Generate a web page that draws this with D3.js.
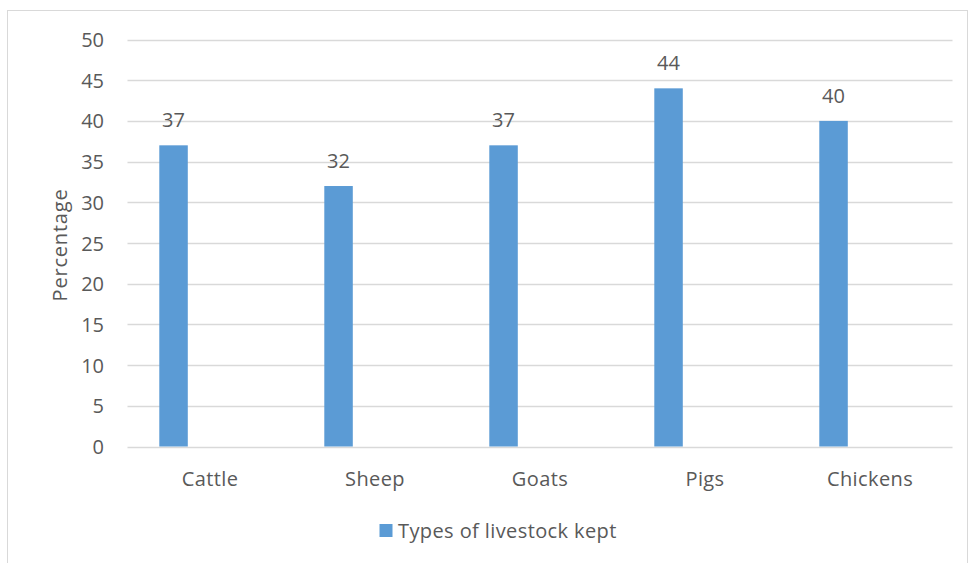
<!DOCTYPE html>
<html><head><meta charset="utf-8">
<script src="https://cdn.jsdelivr.net/npm/d3@7"></script>
<style>
body{margin:0;background:#fff;}
text{font-family:"Open Sans","Noto Sans",sans-serif;fill:#595959;}
</style></head>
<body><svg id="c" width="970" height="563"></svg>
<script>
const categories = ["Cattle","Sheep","Goats","Pigs","Chickens"];
const values = [37,32,37,44,40];
const yTicks = [0,5,10,15,20,25,30,35,40,45,50];
const seriesName = "Types of livestock kept";
const yTitle = "Percentage";

(function(){
const svg = d3.select("#c");
const pL = 127.5, pR = 952.5, pT = 39.5, pB = 446.5;
const color = "#5B9BD5";
const FS = "20px";
const FF = "'Open Sans','Noto Sans',sans-serif";

svg.append("rect").attr("x",7.5).attr("y",10.5).attr("width",960).attr("height",560)
  .attr("fill","#fff").attr("stroke","#D9D9D9").attr("stroke-width",1);

const x = d3.scaleBand().domain(categories).range([pL,pR]).paddingInner(0).paddingOuter(0);
const y = d3.scaleLinear().domain([0,50]).range([pB,pT]);

// gridlines
svg.append("g").selectAll("line").data(yTicks).join("line")
  .attr("x1",pL).attr("x2",pR)
  .attr("y1",d=>Math.round(y(d))+0.5).attr("y2",d=>Math.round(y(d))+0.5)
  .attr("stroke","#D9D9D9").attr("stroke-width",1.3);

// y axis labels
const yAxis = d3.axisLeft(y).tickValues(yTicks).tickSize(0).tickPadding(0);
const gy = svg.append("g").attr("transform",`translate(104,0)`).call(yAxis);
gy.select(".domain").remove();
gy.selectAll("text").attr("font-size",FS).attr("fill","#595959")
  .style("font-family",FF).attr("dy","0.35em");

// bars
const bw = x.bandwidth();
const off = bw*0.1927, wid = bw*0.1727;
svg.append("g").selectAll("rect").data(values).join("rect")
  .attr("x",(d,i)=>x(categories[i])+off)
  .attr("width",wid)
  .attr("y",d=>y(d))
  .attr("height",d=>y(0)-y(d))
  .attr("fill",color);

// value labels
svg.append("g").selectAll("text").data(values).join("text")
  .attr("x",(d,i)=>x(categories[i])+off+wid/2)
  .attr("y",d=>y(d)-18)
  .attr("text-anchor","middle").attr("font-size",FS)
  .text(d=>d);

// x axis labels
const xAxis = d3.axisBottom(x).tickSize(0).tickPadding(0);
const gx = svg.append("g").attr("transform",`translate(0,${pB})`).call(xAxis);
gx.select(".domain").remove();
gx.selectAll("text").attr("font-size",FS).attr("fill","#595959")
  .style("font-family",FF).style("letter-spacing","0.4px").attr("dy",null).attr("y",39);

// y title
svg.append("text").attr("transform","translate(67,245) rotate(-90)")
  .attr("text-anchor","middle").attr("font-size",FS).style("letter-spacing","0.8px").text(yTitle);

// legend
svg.append("rect").attr("x",379.5).attr("y",524).attr("width",13).attr("height",13).attr("fill",color);
svg.append("text").attr("x",398).attr("y",538).attr("font-size",FS).style("letter-spacing","0.4px").text(seriesName);
})();
</script></body></html>
